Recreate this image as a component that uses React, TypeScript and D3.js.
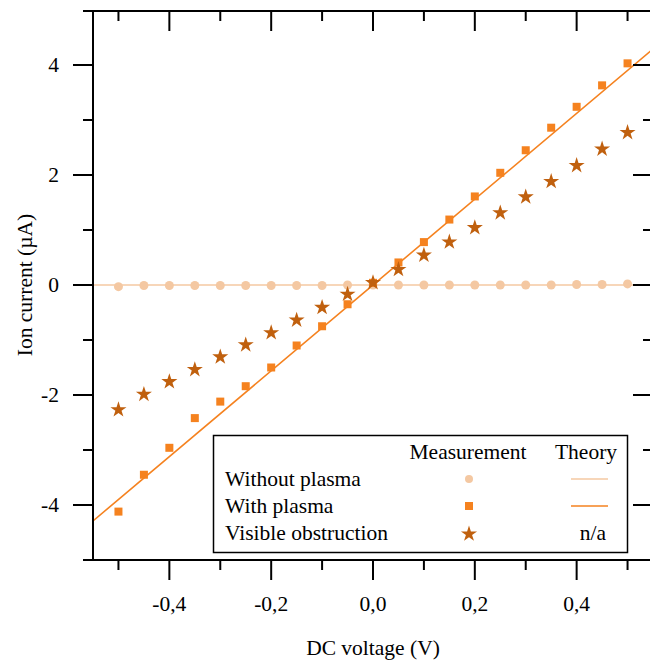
import * as d3 from "d3";

// DC voltage steps (V)
const voltage = [
  -0.5, -0.45, -0.4, -0.35, -0.3, -0.25, -0.2, -0.15, -0.1, -0.05, 0,
  0.05, 0.1, 0.15, 0.2, 0.25, 0.3, 0.35, 0.4, 0.45, 0.5,
];

// measured ion current (µA)
const withoutPlasma = [
  -0.03, -0.01, -0.01, -0.01, -0.01, -0.01, -0.01, -0.01, -0.01, 0, 0,
  0, 0, 0, 0, 0, 0, 0, 0.01, 0.01, 0.02,
];
const withPlasma = [
  -4.12, -3.45, -2.96, -2.42, -2.12, -1.84, -1.5, -1.1, -0.75, -0.35, 0.04,
  0.41, 0.78, 1.19, 1.61, 2.04, 2.45, 2.86, 3.24, 3.63, 4.03,
];
const obstruction = [
  -2.25, -1.97, -1.74, -1.52, -1.29, -1.07, -0.85, -0.62, -0.39, -0.15, 0.06,
  0.3, 0.56, 0.8, 1.06, 1.33, 1.62, 1.9, 2.19, 2.49, 2.79,
];

// theory lines, end points across the axis range
const theoryV = [-0.55, 0.55];
const theoryWithout = [0, 0];
const theoryWith = [-4.29, 4.29];

const xMajor = [-0.4, -0.2, 0, 0.2, 0.4];
const xMinor = [-0.5, -0.3, -0.1, 0.1, 0.3, 0.5];
const yMajor = [-4, -2, 0, 2, 4];
const yMinor = [-3, -1, 1, 3];

const cLight = "#f4c8a2";
const cOrange = "#f5821f";
const cDark = "#c0600e";

export default function App() {
  const width = 650;
  const height = 660;
  const left = 93;
  const right = 653;
  const top = 10;
  const bottom = 560;
  const font = '"Liberation Serif", "Times New Roman", "DejaVu Serif", serif';

  const x = d3.scaleLinear([-0.55, 0.55], [left, right]);
  const y = d3.scaleLinear([-5, 5], [bottom, top]);

  const line = d3
    .line<number>()
    .x((d, i) => x(theoryV[i]))
    .y((d) => y(d));

  const fmtX = (v: number) => d3.format(".1f")(v).replace("−", "-").replace(".", ",");
  const star = d3.symbol(d3.symbolStar, 80)();
  const txt = { fontFamily: font, fontSize: 21.5 };

  return (
    <svg
      width={width}
      height={height}
      style={{ position: "absolute", left: 0, top: 0, background: "#fff", fontFamily: font }}
    >
      <defs>
        <clipPath id="plot">
          <rect x={left} y={top} width={right - left} height={bottom - top} />
        </clipPath>
      </defs>

      {/* theory lines */}
      <g clipPath="url(#plot)" fill="none" strokeWidth={1.6}>
        <path d={line(theoryWithout)!} stroke={cLight} />
        <path d={line(theoryWith)!} stroke={cOrange} />
      </g>

      {/* measurements */}
      <g fill={cLight}>
        {voltage.map((v, i) => (
          <circle key={i} cx={x(v)} cy={y(withoutPlasma[i])} r={4.5} />
        ))}
      </g>
      <g fill={cOrange}>
        {voltage.map((v, i) => (
          <rect key={i} x={x(v) - 4} y={y(withPlasma[i]) - 4} width={8} height={8} />
        ))}
      </g>
      <g fill={cDark}>
        {voltage.map((v, i) => (
          <path key={i} d={star!} transform={`translate(${x(v)},${y(obstruction[i]) + 1})`} />
        ))}
      </g>

      {/* frame */}
      <g stroke="#000" strokeWidth={2} fill="none">
        <line x1={83} x2={right} y1={bottom} y2={bottom} />
        <line x1={83} x2={right} y1={top + 1} y2={top + 1} />
        <line x1={left} x2={left} y1={top} y2={bottom} />
        <line x1={right} x2={right} y1={top} y2={bottom} />
      </g>

      {/* ticks: outward on bottom/left, mirrored inward on top/right */}
      <g stroke="#000" strokeWidth={2}>
        {xMajor.map((t) => (
          <g key={"xM" + t}>
            <line x1={x(t)} x2={x(t)} y1={bottom} y2={bottom + 20} />
            <line x1={x(t)} x2={x(t)} y1={top + 1} y2={top + 21} />
          </g>
        ))}
        {xMinor.map((t) => (
          <g key={"xm" + t}>
            <line x1={x(t)} x2={x(t)} y1={bottom} y2={bottom + 10} />
            <line x1={x(t)} x2={x(t)} y1={top + 1} y2={top + 11} />
          </g>
        ))}
        {yMajor.map((t) => (
          <g key={"yM" + t}>
            <line x1={left - 20} x2={left} y1={y(t)} y2={y(t)} />
            <line x1={right - 20} x2={right} y1={y(t)} y2={y(t)} />
          </g>
        ))}
        {yMinor.map((t) => (
          <g key={"ym" + t}>
            <line x1={left - 10} x2={left} y1={y(t)} y2={y(t)} />
            <line x1={right - 10} x2={right} y1={y(t)} y2={y(t)} />
          </g>
        ))}
      </g>

      {/* tick labels */}
      <g fill="#000">
        {xMajor.map((t) => (
          <text key={t} x={x(t)} y={611} textAnchor="middle" style={txt}>
            {fmtX(t)}
          </text>
        ))}
        {yMajor.map((t) => (
          <text key={t} x={59} y={y(t) + 7} textAnchor="end" style={txt}>
            {t < 0 ? "-" + Math.abs(t) : String(t)}
          </text>
        ))}
      </g>

      {/* axis titles */}
      <text x={x(0)} y={655} textAnchor="middle" style={txt}>
        DC voltage (V)
      </text>
      <text transform={`translate(32,${y(0)}) rotate(-90)`} textAnchor="middle" style={txt}>
        Ion current (µA)
      </text>

      {/* legend */}
      <g>
        <rect x={213.5} y={435.5} width={414} height={117} fill="#fff" stroke="#000" strokeWidth={1.5} />
        <text x={468} y={459} textAnchor="middle" style={txt}>Measurement</text>
        <text x={586} y={459} textAnchor="middle" style={txt}>Theory</text>
        <text x={225} y={486} style={txt}>Without plasma</text>
        <text x={225} y={513} style={txt}>With plasma</text>
        <text x={225} y={540} style={txt}>Visible obstruction</text>
        <circle cx={469} cy={479} r={4} fill={cLight} />
        <rect x={465} y={502} width={8} height={8} fill={cOrange} />
        <path d={star!} transform="translate(469,534)" fill={cDark} />
        <line x1={571} x2={608} y1={479} y2={479} stroke={cLight} strokeWidth={1.6} />
        <line x1={571} x2={608} y1={506} y2={506} stroke={cOrange} strokeWidth={1.6} />
        <text x={593} y={540} textAnchor="middle" style={txt}>n/a</text>
      </g>
    </svg>
  );
}
